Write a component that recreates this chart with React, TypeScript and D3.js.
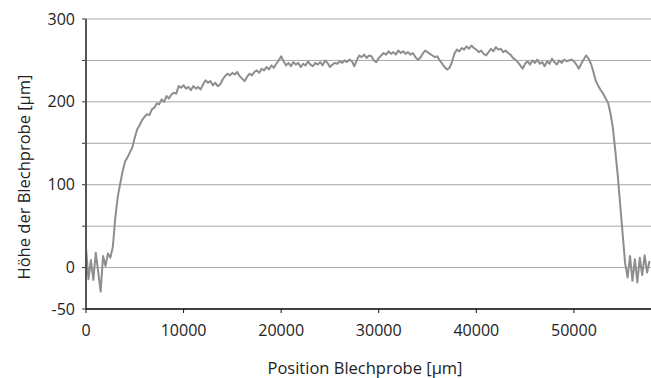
import React from 'react'
import * as d3 from 'd3'

const STEP = 250
const heights = [
  24, -14, 9, -15, 18, -5, -29, 14, 2, 17, 12, 25,
  60, 85, 101, 116, 128, 133, 139, 145, 157, 167, 172, 178,
  182, 185, 184, 191, 193, 198, 197, 203, 200, 207, 204, 209,
  211, 210, 219, 217, 220, 216, 218, 214, 219, 216, 218, 215,
  221, 226, 223, 225, 220, 223, 219, 221, 227, 231, 234, 232,
  235, 233, 236, 231, 228, 225, 230, 234, 232, 236, 238, 235,
  240, 238, 242, 239, 244, 241, 246, 250, 255, 249, 244, 247,
  243, 248, 245, 247, 242, 246, 244, 249, 245, 243, 247, 245,
  248, 244, 250, 247, 242, 245, 247, 246, 249, 247, 250, 248,
  251, 249, 243, 250, 256, 254, 257, 253, 256, 255, 250, 248,
  253, 256, 259, 257, 261, 258, 260, 257, 262, 259, 261, 258,
  260, 257, 259, 254, 251, 253, 258, 262, 260, 258, 256, 254,
  255, 250, 246, 242, 239, 241, 248, 258, 263, 261, 265, 263,
  267, 264, 268, 265, 263, 260, 262, 258, 256, 260, 264, 261,
  266, 263, 264, 260, 262, 259, 257, 253, 251, 248, 244, 240,
  246, 249, 245, 250, 247, 251, 246, 248, 243, 249, 246, 252,
  248, 245, 250, 247, 251, 249, 250, 251, 249, 245, 240, 246,
  251, 256, 252, 246, 236, 225, 219, 214, 210, 204, 199, 186,
  168, 140, 110, 75, 40, 5, -12, 14, -16, 10, -18, 12,
  -9, 15, -6, 8
]
const yTicks = [-50, 0, 100, 200, 300]
const yGrid = [-50, 0, 50, 100, 150, 200, 250, 300]
const xTicks = [0, 10000, 20000, 30000, 40000, 50000]

const W = 651, H = 378
const FONT = '"Open Sans", sans-serif'

export default function App() {
  const x = d3.scaleLinear().domain([0, 57900]).range([86, 651])
  const y = d3.scaleLinear().domain([-50, 300]).range([309, 19])
  const line = d3.line<number>().x((_, i) => x(i * STEP)).y(d => y(d))

  return (
    <svg width={W} height={H} style={{ position: 'absolute', left: 0, top: 0, background: '#fff' }} fontFamily={FONT}>
      {yGrid.map(v => (
        <g key={v}>
          <line x1={86} x2={W} y1={y(v)} y2={y(v)} stroke="#a8a8a8" strokeWidth={1} />
          <line x1={82} x2={86} y1={y(v)} y2={y(v)} stroke="#333" strokeWidth={1} />
        </g>
      ))}
      <path d={line(heights) || ''} fill="none" stroke="#8e8e8e" strokeWidth={2} strokeLinejoin="round" />
      <line x1={86} x2={86} y1={y(300)} y2={y(-50)} stroke="#555" strokeWidth={2} />
      <line x1={86} x2={W} y1={y(-50)} y2={y(-50)} stroke="#111" strokeWidth={1.5} />
      {xTicks.map(v => (
        <line key={v} x1={x(v)} x2={x(v)} y1={y(-50)} y2={y(-50) + 4} stroke="#111" strokeWidth={1} />
      ))}
      {yTicks.map(v => (
        <text key={v} x={75} y={y(v)} dy="0.35em" textAnchor="end" fontSize={16} fill="#222">{v}</text>
      ))}
      {xTicks.map(v => (
        <text key={v} x={x(v)} y={330} dy="0.35em" textAnchor="middle" fontSize={16} fill="#222">{v}</text>
      ))}
      <text x={365} y={368} dy="0.35em" textAnchor="middle" fontSize={16.5} fill="#222">Position Blechprobe [µm]</text>
      <text transform={`translate(24,177) rotate(-90)`} dy="0.35em" textAnchor="middle" fontSize={16.5} fill="#222">Höhe der Blechprobe [µm]</text>
    </svg>
  )
}
